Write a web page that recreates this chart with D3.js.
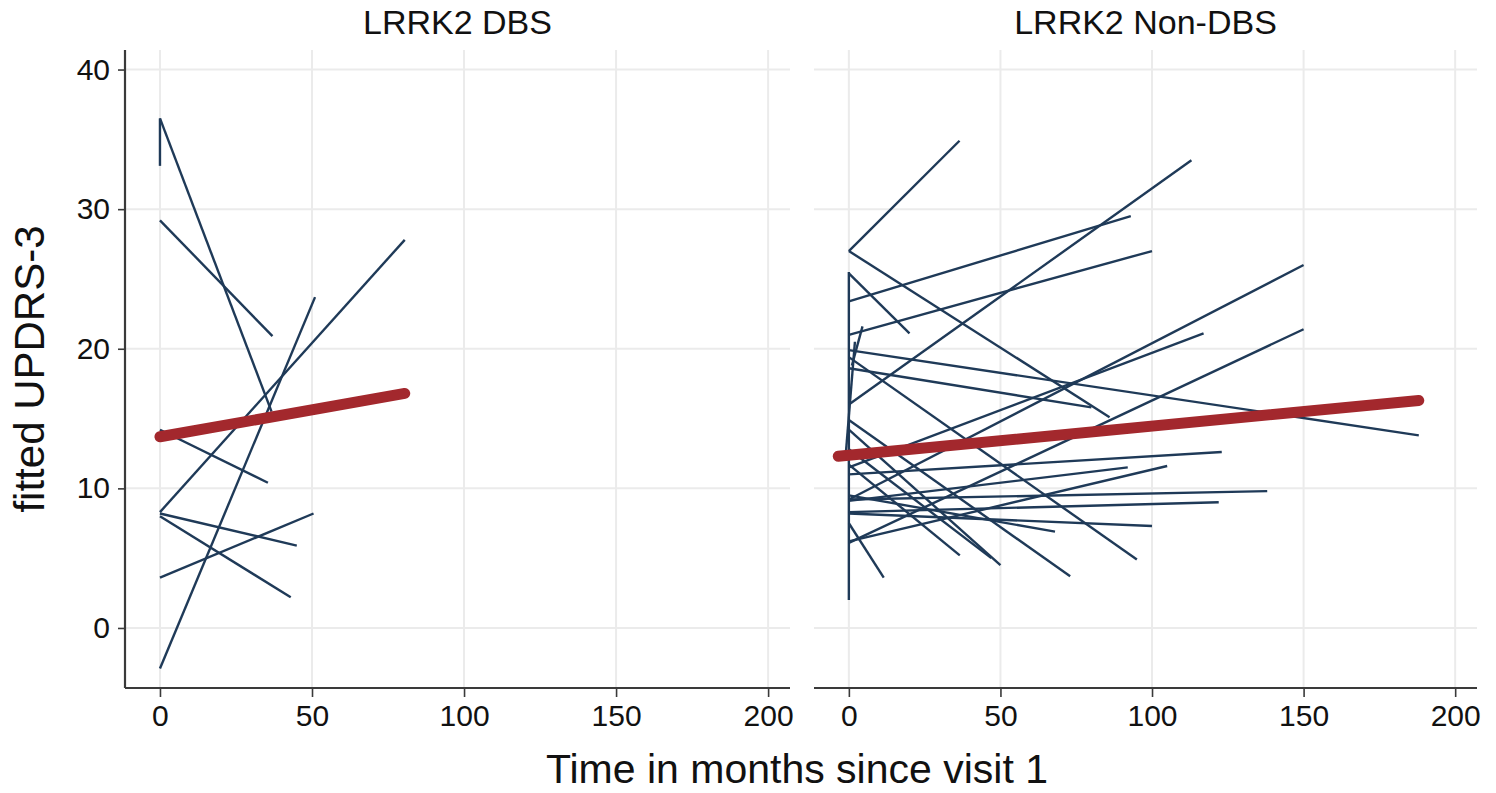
<!DOCTYPE html>
<html>
<head>
<meta charset="utf-8">
<script src="https://cdn.jsdelivr.net/npm/d3@7"></script>
<style>
  html, body { margin: 0; padding: 0; background: #ffffff; }
  svg { display: block; }
  text { font-family: "Liberation Sans", Arial, Helvetica, sans-serif; fill: #111; }
</style>
</head>
<body>
<svg id="chart" width="1496" height="793"></svg>
<script>
// ---------------- data ----------------
const panelTitles = ["LRRK2 DBS", "LRRK2 Non-DBS"];
const xTicks = [0, 50, 100, 150, 200];
const yTicks = [0, 10, 20, 30, 40];
const xLabel = "Time in months since visit 1";
const yLabel = "fitted UPDRS-3";

// individual fitted trajectories: [month start, value start, month end, value end]
const dbsLines = [
  [0, 33.1, 0, 36.5],
  [0, 36.5, 36.7, 15.5],
  [0, 29.2, 37, 20.9],
  [0, 8.3, 80.5, 27.8],
  [0, -2.9, 51, 23.7],
  [0, 14.2, 35.5, 10.4],
  [0, 8.2, 45, 5.9],
  [0, 8.0, 43, 2.2],
  [0, 3.6, 50.5, 8.2]
];
const nonDbsLines = [
  [0, 27.0, 36.5, 34.9],
  [0, 27.0, 86, 15.1],
  [0, 25.4, 20, 21.1],
  [0, 2.0, 0, 25.5],
  [0, 16.0, 113, 33.5],
  [0, 23.4, 93, 29.5],
  [0, 21.0, 100, 27.0],
  [0, 9.2, 150, 26.0],
  [0, 6.1, 150, 21.4],
  [0, 11.5, 117, 21.1],
  [0, 19.9, 188, 13.8],
  [0, 18.6, 80, 15.8],
  [0, 11.0, 123, 12.6],
  [0, 9.2, 138, 9.8],
  [0, 8.3, 122, 9.0],
  [0, 9.1, 92, 11.5],
  [0, 6.2, 105, 11.6],
  [0, 8.2, 100, 7.3],
  [0, 9.5, 68, 6.9],
  [0, 19.4, 95, 4.9],
  [0, 14.9, 73, 3.7],
  [0, 7.5, 11.5, 3.6],
  [0, 11.7, 36.6, 5.2],
  [0, 14.2, 50, 4.5],
  [0, 12.8, 47, 5.0],
  [-1, 12.5, 2, 20.5],
  [1, 18.8, 4.5, 21.6]
];
// population fit lines: [month, value] endpoints
const dbsFit = [[0, 13.7], [80.5, 16.8]];
const nonDbsFit = [[-3.5, 12.3], [188, 16.3]];

// ---------------- layout ----------------
const svg = d3.select("#chart");
const xDomain = [-11.5, 207.2];
const yDomain = [-4.3, 41.4];
const plotTop = 50, plotBottom = 688;
const panelRanges = [[125, 790], [814, 1477]];
const panelData = [
  { lines: dbsLines, fit: dbsFit },
  { lines: nonDbsLines, fit: nonDbsFit }
];

const y = d3.scaleLinear().domain(yDomain).range([plotBottom, plotTop]);
const gridColor = "#ebebeb";
const lineColor = "#1f3a58";
const fitColor = "#a3282d";
const axisColor = "#3a3a3a";

panelData.forEach((pd, i) => {
  const x = d3.scaleLinear().domain(xDomain).range(panelRanges[i]);
  const g = svg.append("g");

  // gridlines
  g.append("g").selectAll("line.hg").data(yTicks).join("line")
    .attr("x1", panelRanges[i][0]).attr("x2", panelRanges[i][1])
    .attr("y1", d => y(d)).attr("y2", d => y(d))
    .attr("stroke", gridColor).attr("stroke-width", 2);
  g.append("g").selectAll("line.vg").data(xTicks).join("line")
    .attr("x1", d => x(d)).attr("x2", d => x(d))
    .attr("y1", plotTop).attr("y2", plotBottom)
    .attr("stroke", gridColor).attr("stroke-width", 2);

  // individual lines
  const line = d3.line().x(d => x(d[0])).y(d => y(d[1]));
  g.append("g").selectAll("path").data(pd.lines).join("path")
    .attr("d", d => line([[d[0], d[1]], [d[2], d[3]]]))
    .attr("fill", "none")
    .attr("stroke", lineColor)
    .attr("stroke-width", 2.4);

  // fit line
  g.append("path")
    .attr("d", line(pd.fit))
    .attr("fill", "none")
    .attr("stroke", fitColor)
    .attr("stroke-width", 11)
    .attr("stroke-linecap", "round");

  // x axis
  const xAxis = d3.axisBottom(x).tickValues(xTicks).tickSize(9).tickPadding(8).tickSizeOuter(0);
  const ax = g.append("g").attr("transform", `translate(0,${plotBottom})`).call(xAxis);
  ax.select(".domain").attr("stroke", axisColor).attr("stroke-width", 2.2)
    .attr("d", `M${panelRanges[i][0]},0H${panelRanges[i][1]}`);
  ax.selectAll(".tick line").attr("stroke", axisColor).attr("stroke-width", 1.6);
  ax.selectAll(".tick text")
    .style("font-family", '"Liberation Sans", Arial, sans-serif')
    .style("font-size", "30px").attr("fill", "#111");

  // panel title
  svg.append("text")
    .attr("x", (panelRanges[i][0] + panelRanges[i][1]) / 2)
    .attr("y", 34)
    .attr("text-anchor", "middle")
    .style("font-size", "34px")
    .text(panelTitles[i]);

  // y axis on first panel only
  if (i === 0) {
    const yAxis = d3.axisLeft(y).tickValues(yTicks).tickSize(7).tickPadding(8).tickSizeOuter(0);
    const ay = g.append("g").attr("transform", `translate(${panelRanges[0][0]},0)`).call(yAxis);
    ay.select(".domain").attr("stroke", axisColor).attr("stroke-width", 2.2)
      .attr("d", `M0,${plotTop}V${plotBottom}`);
    ay.selectAll(".tick line").attr("stroke", axisColor).attr("stroke-width", 1.6);
    ay.selectAll(".tick text")
      .style("font-family", '"Liberation Sans", Arial, sans-serif')
      .style("font-size", "30px").attr("fill", "#111");
  }
});

// axis titles
svg.append("text")
  .attr("x", 797).attr("y", 783)
  .attr("text-anchor", "middle")
  .style("font-size", "41px")
  .text(xLabel);

svg.append("text")
  .attr("transform", "translate(44,369) rotate(-90)")
  .attr("text-anchor", "middle")
  .style("font-size", "42px")
  .text(yLabel);
</script>
</body>
</html>
